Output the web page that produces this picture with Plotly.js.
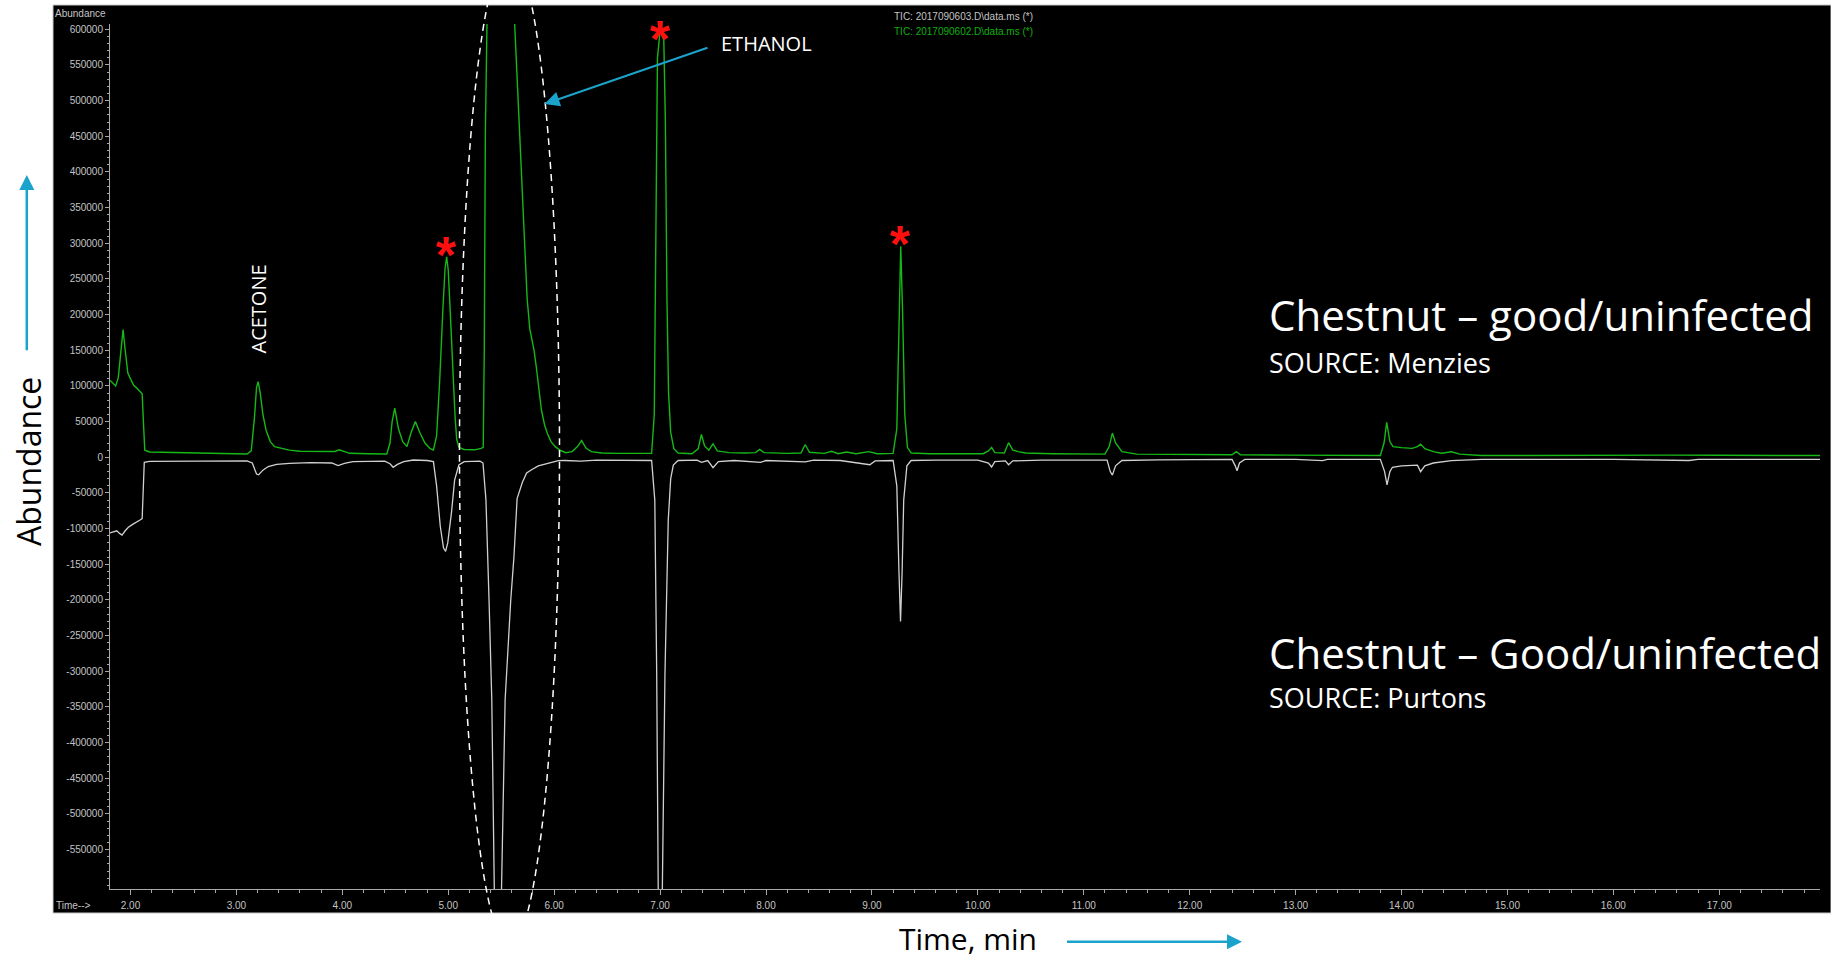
<!DOCTYPE html>
<html>
<head>
<meta charset="utf-8">
<script src="https://cdn.plot.ly/plotly-3.0.1.min.js"></script>
<style>
  html, body { margin: 0; padding: 0; background: #ffffff; }
  #chart { width: 1831px; height: 959px; }
</style>
</head>
<body>
<div id="chart"></div>
<script>
// Total ion chromatograms of two chestnut headspace samples.
// Menzies sample is drawn upward (green), Purtons sample mirrored downward (grey).

const menziesName = 'TIC: 2017090602.D\\data.ms (*)';
const purtonsName = 'TIC: 2017090603.D\\data.ms (*)';

const menziesTime = [
  1.806, 1.83, 1.86, 1.885, 1.91, 1.93, 1.95, 1.975, 2.00, 2.03, 2.06, 2.09, 2.11, 2.125, 2.135, 2.18,
  2.40, 2.70, 3.00, 3.10, 3.14, 3.17, 3.19, 3.205, 3.225, 3.25, 3.28, 3.32, 3.36, 3.43, 3.50, 3.60,
  3.80, 3.93, 3.97, 4.02, 4.07, 4.25, 4.42, 4.45, 4.47, 4.495, 4.53, 4.57, 4.61, 4.65, 4.69, 4.73,
  4.78, 4.83, 4.86, 4.89, 4.92, 4.95, 4.97, 4.985, 5.00, 5.02, 5.045, 5.065, 5.08, 5.10, 5.15, 5.25,
  5.31, 5.33, 5.34, 5.35, 5.37, 5.48, 5.61, 5.627, 5.66, 5.69, 5.72, 5.745, 5.77, 5.79, 5.81, 5.83,
  5.855, 5.88, 5.91, 5.935, 5.97, 6.01, 6.06, 6.11, 6.17, 6.22, 6.26, 6.30, 6.35, 6.45, 6.60, 6.75,
  6.85, 6.92, 6.945, 6.96, 6.975, 7.00, 7.035, 7.05, 7.065, 7.08, 7.10, 7.13, 7.17, 7.30, 7.36, 7.39,
  7.42, 7.46, 7.50, 7.54, 7.65, 7.80, 7.90, 7.94, 7.98, 8.20, 8.33, 8.37, 8.41, 8.55, 8.62, 8.68,
  8.76, 8.85, 8.97, 9.05, 9.20, 9.235, 9.255, 9.272, 9.29, 9.31, 9.335, 9.37, 9.55, 9.80, 10.05, 10.10,
  10.13, 10.16, 10.25, 10.29, 10.33, 10.38, 10.45, 10.70, 11.00, 11.20, 11.24, 11.27, 11.30, 11.36, 11.50, 11.80,
  12.10, 12.40, 12.44, 12.48, 12.90, 13.30, 13.80, 13.835, 13.86, 13.89, 13.92, 14.00, 14.10, 14.15, 14.18, 14.22,
  14.30, 14.38, 14.47, 14.55, 14.75, 15.20, 15.60, 16.00, 16.50, 17.00, 17.50, 17.95
];
const menziesAbundance = [
  108000, 104000, 100000, 112000, 150000, 179000, 150000, 118000, 110000, 101000, 97000, 93000, 89000, 40000, 10000, 7500,
  6800, 5800, 4800, 4600, 9000, 55000, 98000, 106000, 90000, 60000, 38000, 22000, 15000, 12600, 10000, 8500,
  8000, 8200, 10500, 8000, 5600, 5000, 4600, 20000, 50000, 69000, 40000, 22000, 15000, 35000, 50000, 35000,
  20000, 12000, 10200, 30000, 110000, 210000, 265000, 281000, 262000, 200000, 110000, 55000, 25000, 14000, 11000, 10500,
  12500, 14000, 150000, 450000, 650000, 700000, 650000, 607000, 500000, 405000, 290000, 222000, 180000, 165000, 150000, 128000,
  95000, 66000, 45000, 33600, 22000, 14900, 9500, 6500, 8000, 15000, 23500, 13000, 8000, 6000, 5500, 5500,
  5000, 5500, 60000, 300000, 560000, 598000, 585000, 470000, 220000, 90000, 35000, 12000, 6000, 5000, 12000, 32000,
  16000, 10000, 19000, 9000, 6500, 6000, 6500, 11000, 6500, 5500, 6000, 18000, 7000, 5500, 8500, 5000,
  7500, 5000, 8000, 5000, 5500, 40000, 200000, 296000, 200000, 60000, 14000, 6000, 5000, 5000, 5000, 9000,
  14000, 6500, 6000, 20500, 10000, 8000, 6000, 5000, 4500, 4500, 15000, 34000, 20000, 8000, 4500, 4000,
  3500, 3500, 8000, 3500, 3000, 3000, 2500, 20000, 49000, 22000, 15000, 13500, 12500, 15000, 18500, 12000,
  8000, 5600, 7800, 4500, 2500, 2500, 2800, 2500, 3000, 2800, 2500, 2500
];

const purtonsTime = [
  1.806, 1.84, 1.87, 1.90, 1.92, 1.95, 1.98, 2.02, 2.06, 2.09, 2.11, 2.12, 2.13, 2.18, 2.50, 2.80,
  3.10, 3.15, 3.19, 3.21, 3.25, 3.30, 3.38, 3.50, 3.70, 3.90, 3.96, 4.02, 4.10, 4.40, 4.45, 4.48,
  4.52, 4.58, 4.67, 4.80, 4.86, 4.89, 4.925, 4.955, 4.975, 4.995, 5.03, 5.06, 5.10, 5.15, 5.30, 5.328,
  5.356, 5.385, 5.411, 5.436, 5.45, 5.49, 5.501, 5.537, 5.59, 5.62, 5.65, 5.70, 5.74, 5.79, 5.85, 5.95,
  6.04, 6.10, 6.25, 6.40, 6.60, 6.80, 6.92, 6.95, 6.968, 6.983, 7.02, 7.046, 7.077, 7.10, 7.125, 7.17,
  7.35, 7.39, 7.45, 7.50, 7.55, 7.70, 7.95, 8.00, 8.37, 8.45, 8.70, 8.98, 9.03, 9.20, 9.235, 9.255,
  9.27, 9.285, 9.30, 9.33, 9.37, 9.60, 10.00, 10.10, 10.13, 10.16, 10.26, 10.29, 10.33, 10.60, 11.00, 11.22,
  11.25, 11.27, 11.30, 11.36, 11.70, 12.09, 12.40, 12.43, 12.447, 12.47, 12.52, 13.00, 13.256, 13.30, 13.80, 13.84,
  13.863, 13.89, 13.914, 14.00, 14.15, 14.18, 14.22, 14.30, 14.376, 14.47, 14.76, 15.50, 16.00, 16.715, 16.80, 17.50,
  17.95
];
const purtonsAbundance = [
  -106000, -104000, -103000, -107000, -109000, -103000, -98000, -94000, -91000, -88000, -86000, -40000, -7000, -5800, -5500, -5200,
  -5000, -8000, -23500, -24500, -18000, -13000, -10000, -8500, -7500, -8000, -11500, -8500, -6000, -5500, -9000, -14000,
  -10000, -6000, -3800, -4500, -6000, -40000, -97000, -127000, -132000, -120000, -78000, -32000, -10800, -6000, -5500, -8000,
  -60000, -200000, -340000, -620000, -650000, -650000, -620000, -340000, -200000, -140000, -58000, -35000, -22000, -17000, -12000, -8000,
  -4700, -4500, -5500, -4000, -4200, -4000, -4500, -60000, -303000, -620000, -620000, -303000, -88000, -30000, -11000, -4500,
  -4000, -7000, -4500, -14500, -6000, -4500, -7000, -4500, -6500, -4000, -4500, -10400, -5000, -4500, -40000, -160000,
  -230000, -160000, -60000, -12000, -4500, -4000, -4000, -8000, -13600, -6000, -5000, -10400, -5000, -4000, -3500, -4000,
  -20000, -25000, -12000, -4500, -3500, -2800, -3000, -12000, -18800, -8000, -3000, -3000, -4700, -2800, -2800, -20000,
  -38800, -20000, -14000, -12000, -11000, -20100, -12000, -8000, -6100, -4700, -2800, -2800, -3000, -4500, -2800, -2800,
  -2800
];

// Peaks flagged with a red asterisk (times on the Menzies trace)
const markedPeakTimes = [4.985, 7.00, 9.272];

// Abundance axis ticks
const yTickValues = [600000, 550000, 500000, 450000, 400000, 350000, 300000, 250000, 200000, 150000, 100000, 50000, 0,
  -50000, -100000, -150000, -200000, -250000, -300000, -350000, -400000, -450000, -500000, -550000];
const yTickLabels = ['600000', '550000', '500000', '450000', '400000', '350000', '300000', '250000', '200000', '150000', '100000', '50000', '0',
  '-50000', '-100000', '-150000', '-200000', '-250000', '-300000', '-350000', '-400000', '-450000', '-500000', '-550000'];

// ---------- geometry helpers (pixel -> paper) ----------
const W = 1831, H = 959;
const M = { l: 110, r: 11, t: 24, b: 70 };
const PW = W - M.l - M.r, PH = H - M.t - M.b;
const px = x => (x - M.l) / PW;
const py = y => (H - M.b - y) / PH;

const TICK_FONT = { family: 'Liberation Sans, Arial, sans-serif', size: 10, color: '#c4c4c4' };
const SLIDE_FONT = 'Open Sans, Noto Sans, sans-serif';
const BLUE = '#1ba3cc';

const traces = [
  {
    name: purtonsName, x: purtonsTime, y: purtonsAbundance,
    type: 'scatter', mode: 'lines', hoverinfo: 'skip',
    line: { color: '#d0d0d0', width: 1.3 }
  },
  {
    name: menziesName, x: menziesTime, y: menziesAbundance,
    type: 'scatter', mode: 'lines', hoverinfo: 'skip',
    line: { color: '#16b816', width: 1.4 }
  }
];

const ASTERISK_CEILING = 583000;
const asterisks = markedPeakTimes.map(t => {
  const v = menziesAbundance[menziesTime.indexOf(t)];
  return {
    xref: 'x', yref: 'y', x: t, y: Math.min(v, ASTERISK_CEILING),
    text: '*', showarrow: false, xanchor: 'center', yanchor: 'middle', yshift: 2,
    font: { family: 'Liberation Sans, Arial, sans-serif', size: 52, color: '#ff1010', weight: 'bold' }
  };
});

const annotations = [
  // instrument-style labels
  { xref: 'paper', yref: 'paper', x: px(53), y: py(14), xanchor: 'left', yanchor: 'middle', showarrow: false,
    text: 'Abundance', font: TICK_FONT },
  { xref: 'paper', yref: 'paper', x: px(54), y: py(905), xanchor: 'left', yanchor: 'middle', showarrow: false,
    text: 'Time-->', font: TICK_FONT },
  { xref: 'paper', yref: 'paper', x: px(892), y: py(16), xanchor: 'left', yanchor: 'middle', showarrow: false,
    text: purtonsName, font: { family: TICK_FONT.family, size: 10, color: '#c4c4c4' } },
  { xref: 'paper', yref: 'paper', x: px(892), y: py(32), xanchor: 'left', yanchor: 'middle', showarrow: false,
    text: menziesName, font: { family: TICK_FONT.family, size: 10, color: '#10b010' } },

  // compound labels
  { xref: 'paper', yref: 'paper', x: px(766.7), y: py(43), xanchor: 'center', yanchor: 'middle', showarrow: false,
    text: 'ETHANOL', font: { family: SLIDE_FONT, size: 20, color: '#ffffff' } },
  { xref: 'paper', yref: 'paper', x: px(257.5), y: py(309), xanchor: 'center', yanchor: 'middle', showarrow: false,
    textangle: -90, text: 'ACETONE', font: { family: SLIDE_FONT, size: 20, color: '#ffffff' } },
  // arrow from the ETHANOL label to the circled region
  { xref: 'paper', yref: 'paper', x: px(544.5), y: py(104), ax: 709 - 544.5, ay: 47.3 - 104,
    text: '', showarrow: true, arrowhead: 2, arrowsize: 1.5, arrowwidth: 2, arrowcolor: BLUE },

  // sample descriptions
  { xref: 'paper', yref: 'paper', x: px(1267), y: py(314), xanchor: 'left', yanchor: 'middle', showarrow: false,
    text: 'Chestnut – good/uninfected', font: { family: SLIDE_FONT, size: 42, color: '#ffffff' } },
  { xref: 'paper', yref: 'paper', x: px(1267), y: py(362), xanchor: 'left', yanchor: 'middle', showarrow: false,
    text: 'SOURCE: Menzies', font: { family: SLIDE_FONT, size: 27, color: '#ffffff' } },
  { xref: 'paper', yref: 'paper', x: px(1267), y: py(652), xanchor: 'left', yanchor: 'middle', showarrow: false,
    text: 'Chestnut – Good/uninfected', font: { family: SLIDE_FONT, size: 42, color: '#ffffff' } },
  { xref: 'paper', yref: 'paper', x: px(1267), y: py(697), xanchor: 'left', yanchor: 'middle', showarrow: false,
    text: 'SOURCE: Purtons', font: { family: SLIDE_FONT, size: 27, color: '#ffffff' } },

  // slide axis titles with arrows
  { xref: 'paper', yref: 'paper', x: px(28), y: py(462), xanchor: 'center', yanchor: 'middle', showarrow: false,
    textangle: -90, text: 'Abundance', font: { family: SLIDE_FONT, size: 32, color: '#000000' } },
  { xref: 'paper', yref: 'paper', x: px(26.8), y: py(175), ax: 0, ay: 351.7 - 175,
    text: '', showarrow: true, arrowhead: 2, arrowsize: 1.2, arrowwidth: 2.5, arrowcolor: BLUE },
  { xref: 'paper', yref: 'paper', x: px(968), y: py(938), xanchor: 'center', yanchor: 'middle', showarrow: false,
    text: 'Time, min', font: { family: SLIDE_FONT, size: 30, color: '#000000' } },
  { xref: 'paper', yref: 'paper', x: px(1242), y: py(941.7), ax: 1065.5 - 1242, ay: 0,
    text: '', showarrow: true, arrowhead: 2, arrowsize: 1.2, arrowwidth: 2.5, arrowcolor: BLUE }
].concat(asterisks);

const shapes = [
  // black instrument panel with light frame
  { type: 'rect', xref: 'paper', yref: 'paper', layer: 'below',
    x0: px(53), x1: px(1831), y0: py(913), y1: py(5),
    fillcolor: '#000000', line: { color: '#c8c8c8', width: 1 } },
  // dashed ellipse around the ethanol region
  { type: 'circle', xref: 'paper', yref: 'paper', layer: 'above',
    x0: px(459.5), x1: px(559.5), y0: py(946), y1: py(-46),
    line: { color: '#ffffff', width: 1.5, dash: '7px,5px' } }
];

const layout = {
  width: W, height: H, autosize: false,
  margin: M,
  paper_bgcolor: '#ffffff',
  plot_bgcolor: '#000000',
  showlegend: false,
  hovermode: false,
  xaxis: {
    range: [1.8065, 17.9508],
    showgrid: false, zeroline: false,
    showline: true, linecolor: '#a8a8a8', linewidth: 1,
    ticks: 'outside', ticklen: 5, tickwidth: 1, tickcolor: '#a8a8a8',
    tickmode: 'linear', tick0: 0, dtick: 1, tickformat: '.2f',
    tickfont: TICK_FONT, ticklabelstandoff: 2,
    minor: { ticks: 'outside', ticklen: 3, tickcolor: '#a8a8a8', tick0: 0, dtick: 0.2, showgrid: false }
  },
  yaxis: {
    range: [-605200, 607440],
    showgrid: false, zeroline: false,
    showline: true, linecolor: '#a8a8a8', linewidth: 1,
    ticks: 'outside', ticklen: 4, tickwidth: 1, tickcolor: '#a8a8a8',
    tickmode: 'array', tickvals: yTickValues, ticktext: yTickLabels,
    tickfont: TICK_FONT,
    minor: { tickmode: 'linear', ticks: 'outside', ticklen: 2, tickcolor: '#a8a8a8', tick0: 0, dtick: 10000, showgrid: false }
  },
  shapes: shapes,
  annotations: annotations
};

Plotly.newPlot('chart', traces, layout, { staticPlot: true, displayModeBar: false });
</script>
</body>
</html>
